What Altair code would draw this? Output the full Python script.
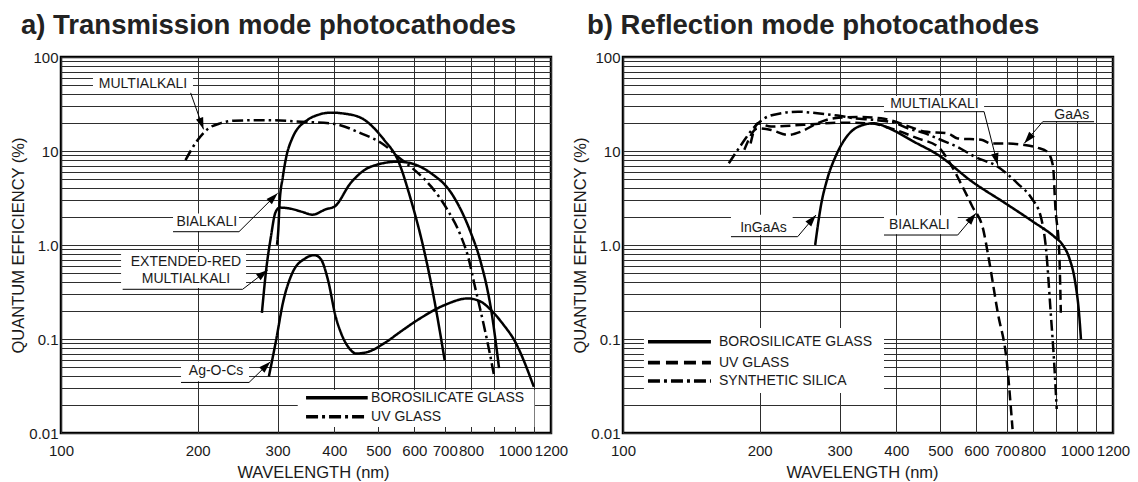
import math
import altair as alt
import pandas as pd

FONT = "Liberation Sans"
INK = "#1a1a1a"

# ---------------- panel a: transmission mode (wavelength nm -> QE %) ----------------
a_bialkali_wl = [299, 301, 303, 308, 313.5, 323, 349, 367, 393, 420, 458, 515, 552, 590, 630, 664, 700]
a_bialkali_qe = [1.0, 1.43, 2.8, 5.3, 8.7, 13.6, 21.4, 24.1, 25.6, 25.0, 22.5, 13.1, 8.0, 3.0, 0.89, 0.26, 0.059]

a_extred_wl = [277, 283, 290, 296.5, 303, 318, 340, 358, 383, 400, 435, 481, 552, 590, 653, 723, 800, 838, 888, 922]
a_extred_qe = [0.19, 0.54, 1.23, 2.2, 2.5, 2.45, 2.25, 2.1, 2.4, 2.56, 4.6, 6.8, 7.7, 7.4, 5.8, 3.6, 1.33, 0.69, 0.19, 0.049]

a_agocs_wl = [287, 298, 308, 323, 345, 362, 374, 387, 403, 414, 435, 446, 470, 515, 560, 611, 700, 787, 840, 888, 945, 995, 1100]
a_agocs_qe = [0.040, 0.10, 0.24, 0.50, 0.72, 0.78, 0.70, 0.43, 0.17, 0.115, 0.076, 0.07, 0.072, 0.09, 0.12, 0.16, 0.23, 0.27, 0.25, 0.20, 0.14, 0.098, 0.031]

a_multi_uv_wl = [188, 200, 210, 225, 240, 285, 338, 400, 458, 515, 552, 600, 653, 710, 761, 790, 813, 855, 880, 898]
a_multi_uv_qe = [8.0, 13.1, 17.0, 19.8, 21.0, 21.3, 20.5, 19.4, 15.4, 11.6, 8.7, 6.3, 4.2, 2.36, 1.22, 0.72, 0.39, 0.135, 0.07, 0.042]

# ---------------- panel b: reflection mode ----------------
b_ingaas_wl = [265, 273, 282, 295, 313, 334, 357, 380, 393, 438, 494, 588, 695, 800, 890, 930, 962, 990, 1010, 1020]
b_ingaas_qe = [1.0, 2.66, 5.1, 9.1, 14.8, 18.6, 19.7, 18.0, 16.7, 12.5, 9.1, 4.7, 2.78, 1.77, 1.23, 1.0, 0.72, 0.41, 0.19, 0.10]

b_multi_wl = [171, 182, 195, 205, 223, 243, 268, 297, 323, 357, 396, 424, 461, 502, 546, 595, 669, 740, 792, 833, 855, 875, 890, 902]
b_multi_qe = [7.4, 11.6, 18.2, 22.3, 25.2, 26.2, 25.2, 23.8, 22.3, 21.4, 20.0, 17.4, 15.5, 13.1, 11.0, 8.7, 6.8, 4.5, 3.2, 1.96, 0.88, 0.19, 0.058, 0.018]

b_gaas_wl = [185, 198, 212, 231, 247, 268, 292, 330, 370, 438, 461, 519, 546, 615, 647, 700, 765, 820, 860, 885, 896, 914, 921]
b_gaas_qe = [10.3, 17.4, 16.7, 14.8, 16.1, 19.7, 22.3, 23.0, 22.3, 17.4, 16.1, 15.4, 13.6, 13.2, 12.0, 12.0, 11.6, 10.8, 9.8, 7.0, 2.5, 0.8, 0.19]

b_bialkali_wl = [191, 198, 212, 250, 300, 351, 389, 446, 494, 528, 555, 588, 622, 638, 669, 700, 721]
b_bialkali_qe = [12.0, 19.7, 18.2, 19.0, 20.0, 19.7, 17.4, 13.6, 11.1, 7.1, 4.5, 2.57, 1.43, 0.75, 0.19, 0.058, 0.011]

# ---------------- axes ----------------
x_ticks = list(range(100, 1300, 100))
y_ticks = [round(m * 10 ** e, 10) for e in range(-2, 2) for m in range(1, 10)] + [100]

X_LABELS = "(datum.value == 900 || datum.value == 1100) ? '' : format(datum.value, 'd')"
Y_LABELS = ("datum.value == 100 ? '100' : datum.value == 10 ? '10' : datum.value == 1 ? '1.0' : "
            "datum.value == 0.1 ? '0.1' : datum.value == 0.01 ? '0.01' : ''")

W, H = 490, 376
X_DOMAIN = [100, 1200]
Y_DOMAIN = [0.01, 100]

# ---------------- callouts: label text, white box, leader path (last point = arrow tip) ----------------
a_callouts = [
    {"lines": [("MULTIALKALI", 151.6, 51.6)], "box": (117.6, 195.3, 62.0, 42.5),
     "leader": [(193.0, 41.5), (206.0, 17.0)]},
    {"lines": [("BIALKALI", 209.4, 1.757)], "box": (176.5, 246.6, 2.16, 1.40),
     "leader": [(176.5, 1.385), (246.6, 1.385), (300.0, 3.55)]},
    {"lines": [("EXTENDED-RED", 188.5, 0.664), ("MULTIALKALI", 188.5, 0.4315)], "box": (135.6, 255.6, 0.845, 0.349),
     "leader": [(136.7, 0.338), (251.2, 0.338), (285.3, 0.542)]},
    {"lines": [("Ag-O-Cs", 219.5, 0.0462)], "box": (183.8, 259.5, 0.058, 0.0355),
     "leader": [(183.8, 0.0345), (259.5, 0.0345), (289.1, 0.0573)]},
]
b_callouts = [
    {"lines": [("InGaAs", 203.9, 1.535)], "box": (172.9, 236.4, 2.1, 1.277),
     "leader": [(172.9, 1.226), (242.5, 1.226), (266.1, 2.085)]},
    {"lines": [("MULTIALKALI", 485.1, 31.6)], "box": (375.7, 624.1, 38.5, 26.5),
     "leader": [(375.7, 26.2), (624.1, 26.2), (668.8, 7.1)]},
    {"lines": [("GaAs", 974.0, 24.2)], "box": (845.9, 1090.0, 29.4, 20.8),
     "leader": [(1090.0, 20.5), (840.3, 20.5), (765.5, 12.1)]},
    {"lines": [("BIALKALI", 449.5, 1.632)], "box": (375.7, 546.0, 2.07, 1.30),
     "leader": [(375.7, 1.277), (546.0, 1.277), (599.0, 2.174)]},
]

# legend: box, then entries (style, label), line span and text start, row positions
a_legend_box = (332.2, 1103.0, 0.0287, 0.0116)
a_legend_rows = [("solid", "BOROSILICATE GLASS", 0.02374), ("dashdot", "UV GLASS", 0.01491)]
a_legend_span = (346.5, 473.7, 481.8)

b_legend_box = (111.2, 375.7, 0.131, 0.0267)
b_legend_rows = [("solid", "BOROSILICATE GLASS", 0.0936), ("dash", "UV GLASS", 0.056),
                 ("dashdot", "SYNTHETIC SILICA", 0.0357)]
b_legend_span = (113.5, 156.2, 162.7)

CURVE_DASH = {"solid": [1, 0], "dash": [10, 5], "dashdot": [11, 4, 2.5, 4]}
LEGEND_DASH = {"solid": [1, 0], "dash": [12, 6], "dashdot": [12, 4, 3, 4]}

ARROW = "M0,0 L0.32,1 L-0.32,1 Z"


def px(wl):
    return W * math.log10(wl / X_DOMAIN[0]) / math.log10(X_DOMAIN[1] / X_DOMAIN[0])


def py(q):
    return H * (math.log10(Y_DOMAIN[1]) - math.log10(q)) / (math.log10(Y_DOMAIN[1]) - math.log10(Y_DOMAIN[0]))


def x_enc(title_x):
    return alt.X(
        "x:Q",
        scale=alt.Scale(type="log", domain=X_DOMAIN, nice=False),
        axis=alt.Axis(
            values=x_ticks, labelExpr=X_LABELS, grid=True, gridColor="#2e2e2e", gridWidth=1,
            ticks=False, domain=False, labelFont=FONT, labelFontSize=15, labelColor=INK,
            labelPadding=10, labelFlush=False, labelOverlap=False,
            title="WAVELENGTH (nm)", titleFont=FONT, titleFontSize=16.5, titleFontWeight="normal",
            titleColor=INK, titleX=title_x, titleY=44, titleBaseline="alphabetic",
        ),
    )


def y_enc():
    return alt.Y(
        "y:Q",
        scale=alt.Scale(type="log", domain=Y_DOMAIN, nice=False),
        axis=alt.Axis(
            values=y_ticks, labelExpr=Y_LABELS, grid=True, gridColor="#2e2e2e", gridWidth=1,
            ticks=False, domain=False, labelFont=FONT, labelFontSize=15, labelColor=INK,
            labelPadding=3, labelFlush=False, labelOverlap=False,
            title="QUANTUM EFFICIENCY (%)", titleFont=FONT, titleFontSize=16.5, titleFontWeight="normal",
            titleColor=INK, titleX=-43, titleY=H / 2, titleBaseline="middle", titleAngle=270,
        ),
    )


def panel(curves, callouts, legend_box, legend_rows, legend_span, title, title_dx, title_x):
    X = x_enc(title_x)
    Y = y_enc()

    boxes = [c["box"] for c in callouts] + [legend_box]
    box_df = pd.DataFrame([{"x": b[0], "x2": b[1], "y": b[2], "y2": b[3]} for b in boxes])
    box_layer = alt.Chart(box_df).mark_rect(color="white", opacity=1).encode(
        x=X, x2="x2:Q", y=Y, y2="y2:Q")

    layers = [box_layer]

    for wl, qe, style in curves:
        df = pd.DataFrame({"x": wl, "y": qe, "i": range(len(wl))})
        layers.append(
            alt.Chart(df).mark_line(color="black", strokeWidth=2.5, strokeDash=CURVE_DASH[style],
                                    interpolate="monotone", strokeCap="butt").encode(
                x=X, y=Y, order="i:Q"))

    # leaders
    lead_rows, tip_rows, text_rows = [], [], []
    for k, c in enumerate(callouts):
        for j, (lx, ly) in enumerate(c["leader"]):
            lead_rows.append({"x": lx, "y": ly, "k": k, "i": j})
        (x0, y0), (x1, y1) = c["leader"][-2], c["leader"][-1]
        dx, dy = px(x1) - px(x0), py(y1) - py(y0)
        ang = math.degrees(math.atan2(dx, -dy)) % 360
        tip_rows.append({"x": x1, "y": y1, "a": ang})
        for t, tx, ty in c["lines"]:
            text_rows.append({"x": tx, "y": ty, "t": t})

    layers.append(
        alt.Chart(pd.DataFrame(lead_rows)).mark_line(color="black", strokeWidth=1).encode(
            x=X, y=Y, detail="k:N", order="i:Q"))
    layers.append(
        alt.Chart(pd.DataFrame(tip_rows)).mark_point(shape=ARROW, filled=True, color="black",
                                                      size=560, opacity=1, strokeWidth=0).encode(
            x=X, y=Y, angle=alt.Angle("a:Q", scale=None)))
    layers.append(
        alt.Chart(pd.DataFrame(text_rows)).mark_text(font=FONT, fontSize=14, color=INK,
                                                     align="center", baseline="middle").encode(
            x=X, y=Y, text="t:N"))

    # legend entries
    lx0, lx1, tx = legend_span
    for style, label, ry in legend_rows:
        rule_df = pd.DataFrame([{"x": lx0, "x2": lx1, "y": ry}])
        layers.append(
            alt.Chart(rule_df).mark_rule(color="black", strokeWidth=3.6, strokeDash=LEGEND_DASH[style],
                                         strokeCap="butt").encode(x=X, x2="x2:Q", y=Y))
        txt_df = pd.DataFrame([{"x": tx, "y": ry, "t": label}])
        layers.append(
            alt.Chart(txt_df).mark_text(font=FONT, fontSize=14, color=INK, align="left",
                                        baseline="middle").encode(x=X, y=Y, text="t:N"))

    return alt.layer(*layers).properties(
        width=W, height=H,
        title=alt.TitleParams(title, anchor="start", frame="group", dx=title_dx, offset=-11,
                              baseline="alphabetic", font=FONT, fontSize=27.5, fontWeight="bold",
                              color="#222222"),
    )


panel_a = panel(
    [(a_bialkali_wl, a_bialkali_qe, "solid"),
     (a_extred_wl, a_extred_qe, "solid"),
     (a_agocs_wl, a_agocs_qe, "solid"),
     (a_multi_uv_wl, a_multi_uv_qe, "dashdot")],
    a_callouts, a_legend_box, a_legend_rows, a_legend_span,
    "a) Transmission mode photocathodes", -40, 252)

panel_b = panel(
    [(b_ingaas_wl, b_ingaas_qe, "solid"),
     (b_multi_wl, b_multi_qe, "dashdot"),
     (b_gaas_wl, b_gaas_qe, "dash"),
     (b_bialkali_wl, b_bialkali_qe, "dash")],
    b_callouts, b_legend_box, b_legend_rows, b_legend_span,
    "b) Reflection mode photocathodes", -36, 239)

chart = alt.hconcat(panel_a, panel_b, spacing=72, bounds="flush").properties(
    padding={"left": 8, "top": 10, "right": 5, "bottom": 5},
    background="white",
).configure_view(stroke="black", strokeWidth=2.5)

chart.save("out.html", embed_options={"renderer": "svg", "actions": False})
